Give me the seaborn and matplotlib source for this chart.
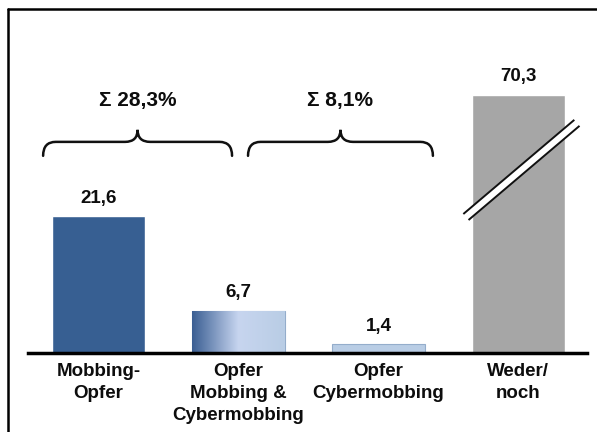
import numpy as np
import pandas as pd
import matplotlib
matplotlib.use("Agg")
import matplotlib.pyplot as plt
import matplotlib.transforms as mtransforms
from matplotlib.path import Path
from matplotlib.patches import PathPatch
from matplotlib.lines import Line2D
from matplotlib.colors import LinearSegmentedColormap
import seaborn as sns

# ---- data ----
categories = ["Mobbing-\nOpfer", "Opfer\nMobbing &\nCybermobbing", "Opfer\nCybermobbing", "Weder/\nnoch"]
values = [21.6, 6.7, 1.4, 70.3]
value_labels = ["21,6", "6,7", "1,4", "70,3"]
sum_labels = ["\u03a3 28,3%", "\u03a3 8,1%"]
colors = ["#375f92", "#b9cde5", "#b9cde5", "#a6a6a6"]

# display cap for the broken bar (axis break)
break_cap = 40.7

sns.set_theme(style="white")
plt.rcParams["font.family"] = ["Liberation Sans", "DejaVu Sans"]

fig = plt.figure(figsize=(5.97, 4.32), dpi=100)
ax = fig.add_axes([28 / 597, (432 - 353) / 432, 559 / 597, 317 / 432])

display = np.minimum(values, break_cap)
df = pd.DataFrame({"cat": categories, "val": display})
sns.barplot(data=df, x="cat", y="val", hue="cat", palette=colors, width=0.664,
            legend=False, ax=ax, saturation=1)

ax.set_xlim(-0.504, 3.49)
ax.set_ylim(0, 50)

patches = ax.patches
for i in (1, 2):
    patches[i].set_edgecolor("#94adcb")
    patches[i].set_linewidth(0.8)

# gradient fill for second bar
p = patches[1]
grad_cmap = LinearSegmentedColormap.from_list(
    "g", [(0, "#3a5e93"), (0.5, "#c7d5ef"), (1.0, "#b9cde5")])
grad = np.linspace(0, 1, 256).reshape(1, -1)
im = ax.imshow(grad, cmap=grad_cmap, aspect="auto",
               extent=[p.get_x(), p.get_x() + p.get_width(), 0, p.get_height()],
               zorder=p.get_zorder() + 0.1)
im.set_clip_path(p)
ax.set_xlim(-0.504, 3.49)
ax.set_ylim(0, 50)
ax.set_aspect("auto")

# value labels
for i, (v, lab) in enumerate(zip(display, value_labels)):
    ax.annotate(lab, (i, v), xytext=(0, 13), textcoords="offset points",
                ha="center", va="center", fontsize=13.5, fontweight="bold",
                color="#0d0d0d")

# axis styling
for s in ["top", "right", "left"]:
    ax.spines[s].set_visible(False)
ax.spines["bottom"].set_linewidth(2.5)
ax.spines["bottom"].set_color("black")
ax.set_yticks([])
ax.set_xlabel("")
ax.set_ylabel("")
ax.set_xticks(range(len(categories)))
ax.set_xticklabels(categories, fontsize=13.5, fontweight="bold", color="#0d0d0d",
                   linespacing=1.36)
ax.tick_params(axis="x", length=0, pad=7.5)

# braces
def brace(x0, x1, y_end, y_mid, y_tip, dx):
    xc = (x0 + x1) / 2
    verts = [(x0, y_end), (x0, y_mid), (x0 + dx, y_mid),
             (xc - dx, y_mid), (xc, y_mid), (xc, y_tip),
             (xc, y_mid), (xc + dx, y_mid),
             (x1 - dx, y_mid), (x1, y_mid), (x1, y_end)]
    codes = [Path.MOVETO, Path.CURVE3, Path.CURVE3,
             Path.LINETO, Path.CURVE3, Path.CURVE3,
             Path.CURVE3, Path.CURVE3,
             Path.LINETO, Path.CURVE3, Path.CURVE3]
    ax.add_patch(PathPatch(Path(verts, codes), fill=False, lw=1.8,
                           edgecolor="#111111", capstyle="round"))
    return xc

brace_spans = [(-0.396, 0.954), (1.068, 2.389)]
for (b0, b1), lab in zip(brace_spans, sum_labels):
    xc = brace(b0, b1, 31.1, 33.3, 35.2, 0.09)
    ax.text(xc, 39.9, lab, ha="center", va="center", fontsize=15,
            fontweight="bold", color="#0d0d0d")

# axis-break mark on the last bar
bx = 3
bx0, bx1 = bx - 0.375, bx + 0.418
by0, by1 = 21.45, 36.3
ax.plot([bx0, bx1], [by0, by1], color="white", lw=5.5, solid_capstyle="butt",
        zorder=5)
for sgn in (-1, 1):
    tr = mtransforms.offset_copy(ax.transData, fig=fig, x=sgn * -2.6,
                                 y=sgn * 3.0, units="dots")
    ax.plot([bx0, bx1], [by0, by1], color="#111111", lw=1.4,
            solid_capstyle="butt", transform=tr, zorder=6)

# outer frame (top and left edges)
fig.add_artist(Line2D([8 / 597, 1.0], [1 - 9 / 432, 1 - 9 / 432],
                      color="black", lw=1.8, transform=fig.transFigure))
fig.add_artist(Line2D([8 / 597, 8 / 597], [0, 1 - 9 / 432],
                      color="black", lw=1.8, transform=fig.transFigure))

fig.savefig("out.png", dpi=100)
